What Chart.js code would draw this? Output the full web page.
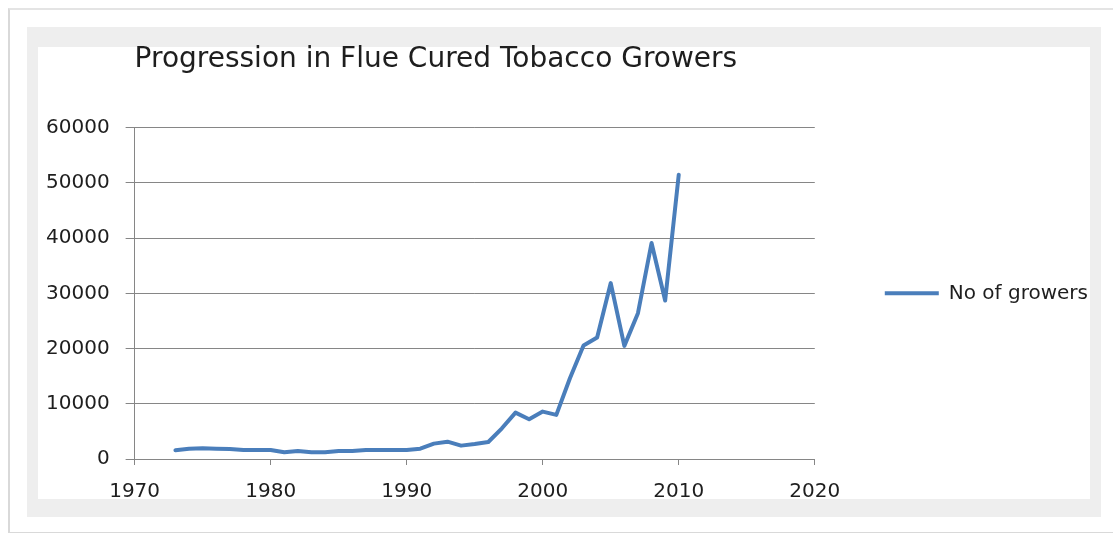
<!DOCTYPE html>
<html>
<head>
<meta charset="utf-8">
<title>Progression in Flue Cured Tobacco Growers</title>
<script src="https://cdn.jsdelivr.net/npm/chart.js@4.4.1/dist/chart.umd.min.js"></script>
<style>
  html, body { margin: 0; padding: 0; background: #fff; }
  .page { position: relative; width: 1113px; height: 533px; overflow: hidden; }
  .edge {
    position: absolute; left: 8px; top: 8px; width: 1120px; height: 522px;
    border-left: 2px solid #d9d9d9; border-top: 2px solid #e4e4e4; border-bottom: 2px solid #d9d9d9;
  }
  .band { position: absolute; left: 27px; top: 27px; width: 1074px; height: 490px; background: #eeeeee; }
  .sheet { position: absolute; left: 38px; top: 47px; width: 1052px; height: 452px; background: #fff; }
  #growersChart { position: absolute; left: 0; top: 0; }
</style>
</head>
<body>
<div class="page">
  <div class="edge"></div>
  <div class="band"></div>
  <div class="sheet"></div>
  <canvas id="growersChart" width="1113" height="533"></canvas>
</div>
<script>
const years = [
  1973, 1974, 1975, 1976, 1977, 1978, 1979, 1980, 1981, 1982,
  1983, 1984, 1985, 1986, 1987, 1988, 1989, 1990, 1991, 1992,
  1993, 1994, 1995, 1996, 1997, 1998, 1999, 2000, 2001, 2002,
  2003, 2004, 2005, 2006, 2007, 2008, 2009, 2010
]
const growers = [
  1600, 1870, 1930, 1870, 1800, 1630, 1630, 1630, 1210, 1450,
  1210, 1210, 1450, 1450, 1630, 1630, 1630, 1630, 1870, 2780,
  3140, 2420, 2720, 3080, 5560, 8400, 7200, 8580, 7980, 14620,
  20540, 22000, 31850, 20480, 26400, 39100, 28700, 51480
]
const xTickValues = [1970, 1980, 1990, 2000, 2010, 2020]
const yTickValues = [0, 10000, 20000, 30000, 40000, 50000, 60000]

const seriesName = 'No of growers'
const chartTitle = 'Progression in Flue Cured Tobacco Growers'

const axisGray = '#868686'
const textColor = '#1e1e1e'
const lineBlue = '#4a7ebb'
const labelFont = { family: 'DejaVu Sans', size: 20 }

const ctx = document.getElementById('growersChart').getContext('2d')

new Chart(ctx, {
  type: 'line',
  data: {
    datasets: [
      {
        label: seriesName,
        data: years.map((year, i) => ({ x: year, y: growers[i] })),
        borderColor: lineBlue,
        backgroundColor: lineBlue,
        borderWidth: 4,
        borderCapStyle: 'round',
        borderJoinStyle: 'round',
        tension: 0,
        pointRadius: 0,
        fill: false,
      },
    ],
  },
  options: {
    responsive: false,
    animation: false,
    devicePixelRatio: 1,
    layout: {
      padding: { left: 30, right: 15, top: 0, bottom: 14 },
    },
    plugins: {
      title: {
        display: true,
        text: chartTitle,
        align: 'start',
        fullSize: false,
        color: textColor,
        font: { family: 'DejaVu Sans', size: 28, weight: 'normal' },
        padding: { top: 43, bottom: 51 },
      },
      legend: {
        position: 'right',
        fullSize: false,
        maxWidth: 320,
        labels: {
          color: textColor,
          font: labelFont,
          usePointStyle: true,
          pointStyle: 'line',
          pointStyleWidth: 54,
          padding: 70,
        },
      },
      tooltip: { enabled: false },
    },
    scales: {
      x: {
        type: 'linear',
        min: 1970,
        max: 2020,
        afterBuildTicks: (scale) => {
          scale.ticks = xTickValues.map((v) => ({ value: v }))
        },
        ticks: {
          color: textColor,
          font: labelFont,
          padding: 15,
          maxRotation: 0,
          callback: (v) => String(v),
        },
        grid: {
          drawOnChartArea: false,
          drawTicks: true,
          tickLength: 6,
          color: axisGray,
        },
        border: { display: true, color: axisGray, width: 1 },
      },
      y: {
        min: 0,
        max: 60000,
        afterBuildTicks: (scale) => {
          scale.ticks = yTickValues.map((v) => ({ value: v }))
        },
        ticks: {
          color: textColor,
          font: labelFont,
          padding: 16,
          callback: (v) => String(v),
        },
        grid: {
          drawTicks: true,
          tickLength: 9,
          color: axisGray,
        },
        border: { display: true, color: axisGray, width: 1 },
      },
    },
  },
})
</script>
</body>
</html>
